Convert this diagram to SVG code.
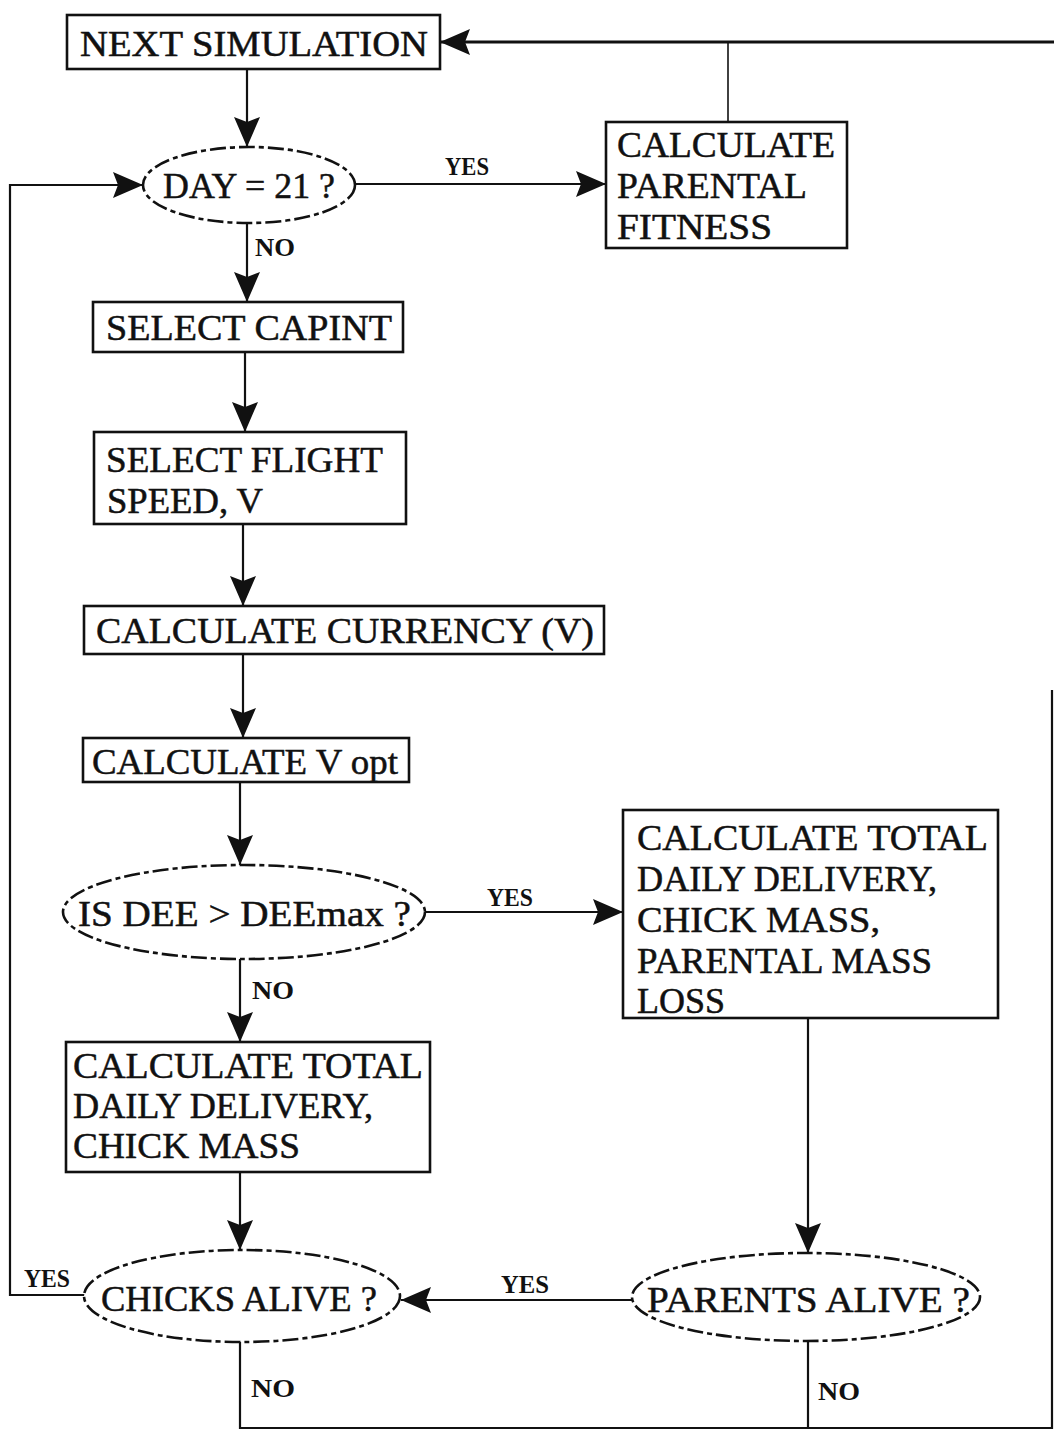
<svg xmlns="http://www.w3.org/2000/svg" width="1054" height="1430" viewBox="0 0 1054 1430">
<style>
.box{fill:#fff;stroke:#111;stroke-width:2.6}
.dec{fill:#fff;stroke:#111;stroke-width:2.6;stroke-dasharray:16 4 5 4}
.t{font-family:"Liberation Serif","Times New Roman",serif;font-size:36px;fill:#111;stroke:#111;stroke-width:0.5}
.lbl{font-family:"Liberation Serif","Times New Roman",serif;font-size:25px;font-weight:bold;fill:#111}
.c{fill:none;stroke:#111;stroke-width:2.2}
</style>
<defs>
<marker id="ah" markerUnits="userSpaceOnUse" markerWidth="30" markerHeight="26" viewBox="0 0 30 26" refX="30" refY="13" orient="auto">
<path d="M0,0 L30,13 L0,26 L5,13 z" fill="#111"/>
</marker>
</defs>
<rect width="1054" height="1430" fill="#fff"/>
<g id="connectors">
<path class="c" style="stroke-width:3" d="M1054,42 L440,42" marker-end="url(#ah)"/>
<path class="c" style="stroke-width:1.6" d="M728,42 L728,122"/>
<path class="c" d="M247,69 L247,147" marker-end="url(#ah)"/>
<path class="c" d="M355,184 L606,184" marker-end="url(#ah)"/>
<path class="c" d="M85,1295 L10,1295 L10,185 L143,185" marker-end="url(#ah)"/>
<path class="c" d="M247,223 L247,302" marker-end="url(#ah)"/>
<path class="c" d="M245,352 L245,432" marker-end="url(#ah)"/>
<path class="c" d="M243,524 L243,606" marker-end="url(#ah)"/>
<path class="c" d="M243,654 L243,738" marker-end="url(#ah)"/>
<path class="c" d="M240,782 L240,865" marker-end="url(#ah)"/>
<path class="c" d="M425,912 L623,912" marker-end="url(#ah)"/>
<path class="c" d="M240,959 L240,1042" marker-end="url(#ah)"/>
<path class="c" d="M240,1172 L240,1250" marker-end="url(#ah)"/>
<path class="c" d="M808,1018 L808,1253" marker-end="url(#ah)"/>
<path class="c" d="M632,1300 L401,1300" marker-end="url(#ah)"/>
<path class="c" d="M240,1342 L240,1428 L1052,1428 L1052,690"/>
<path class="c" d="M808,1341 L808,1428"/>
</g>
<g id="lbls">
<text class="lbl" x="445" y="175" textLength="44" lengthAdjust="spacingAndGlyphs">YES</text>
<text class="lbl" x="255" y="256" textLength="40" lengthAdjust="spacingAndGlyphs">NO</text>
<text class="lbl" x="487" y="906" textLength="46" lengthAdjust="spacingAndGlyphs">YES</text>
<text class="lbl" x="252" y="999" textLength="42" lengthAdjust="spacingAndGlyphs">NO</text>
<text class="lbl" x="501" y="1293" textLength="48" lengthAdjust="spacingAndGlyphs">YES</text>
<text class="lbl" x="24" y="1287" textLength="46" lengthAdjust="spacingAndGlyphs">YES</text>
<text class="lbl" x="251" y="1397" textLength="44" lengthAdjust="spacingAndGlyphs">NO</text>
<text class="lbl" x="818" y="1400" textLength="42" lengthAdjust="spacingAndGlyphs">NO</text>
</g>
<g id="next-simulation">
<rect class="box" x="67" y="15" width="373" height="54"/>
<text class="t" x="80" y="56" textLength="348" lengthAdjust="spacingAndGlyphs">NEXT SIMULATION</text>
</g>
<g id="parental-fitness">
<rect class="box" x="606" y="122" width="241" height="126"/>
<text class="t" x="617" y="157" textLength="218" lengthAdjust="spacingAndGlyphs">CALCULATE</text>
<text class="t" x="617" y="198" textLength="190" lengthAdjust="spacingAndGlyphs">PARENTAL</text>
<text class="t" x="617" y="239" textLength="155" lengthAdjust="spacingAndGlyphs">FITNESS</text>
</g>
<g id="day21">
<ellipse class="dec" cx="249" cy="185" rx="106" ry="38"/>
<text class="t" x="163" y="198" style="font-size:35px" textLength="172" lengthAdjust="spacingAndGlyphs">DAY = 21 ?</text>
</g>
<g id="select-capint">
<rect class="box" x="93" y="302" width="310" height="50"/>
<text class="t" x="106" y="340" textLength="286" lengthAdjust="spacingAndGlyphs">SELECT CAPINT</text>
</g>
<g id="select-flight">
<rect class="box" x="94" y="432" width="312" height="92"/>
<text class="t" x="106" y="472" textLength="277" lengthAdjust="spacingAndGlyphs">SELECT FLIGHT</text>
<text class="t" x="107" y="513" textLength="156" lengthAdjust="spacingAndGlyphs">SPEED, V</text>
</g>
<g id="currency">
<rect class="box" x="84" y="606" width="520" height="48"/>
<text class="t" x="96" y="643" textLength="498" lengthAdjust="spacingAndGlyphs">CALCULATE CURRENCY (V)</text>
</g>
<g id="vopt">
<rect class="box" x="83" y="738" width="326" height="44"/>
<text class="t" x="92" y="774" textLength="306" lengthAdjust="spacingAndGlyphs">CALCULATE V opt</text>
</g>
<g id="dee">
<ellipse class="dec" cx="244" cy="912" rx="181" ry="47"/>
<text class="t" x="78" y="926" textLength="333" lengthAdjust="spacingAndGlyphs">IS DEE &gt; DEEmax ?</text>
</g>
<g id="total-parental">
<rect class="box" x="623" y="810" width="375" height="208"/>
<text class="t" x="637" y="850" textLength="351" lengthAdjust="spacingAndGlyphs">CALCULATE TOTAL</text>
<text class="t" x="637" y="891" textLength="300" lengthAdjust="spacingAndGlyphs">DAILY DELIVERY,</text>
<text class="t" x="637" y="932" textLength="243" lengthAdjust="spacingAndGlyphs">CHICK MASS,</text>
<text class="t" x="637" y="973" textLength="295" lengthAdjust="spacingAndGlyphs">PARENTAL MASS</text>
<text class="t" x="637" y="1013" textLength="88" lengthAdjust="spacingAndGlyphs">LOSS</text>
</g>
<g id="total-chick">
<rect class="box" x="66" y="1042" width="364" height="130"/>
<text class="t" x="73" y="1078" textLength="350" lengthAdjust="spacingAndGlyphs">CALCULATE TOTAL</text>
<text class="t" x="73" y="1118" textLength="300" lengthAdjust="spacingAndGlyphs">DAILY DELIVERY,</text>
<text class="t" x="73" y="1158" textLength="227" lengthAdjust="spacingAndGlyphs">CHICK MASS</text>
</g>
<g id="chicks-alive">
<ellipse class="dec" cx="242" cy="1296" rx="158" ry="46"/>
<text class="t" x="101" y="1311" textLength="276" lengthAdjust="spacingAndGlyphs">CHICKS ALIVE ?</text>
</g>
<g id="parents-alive">
<ellipse class="dec" cx="806" cy="1297" rx="174" ry="44"/>
<text class="t" x="647" y="1312" textLength="323" lengthAdjust="spacingAndGlyphs">PARENTS ALIVE ?</text>
</g>
</svg>
